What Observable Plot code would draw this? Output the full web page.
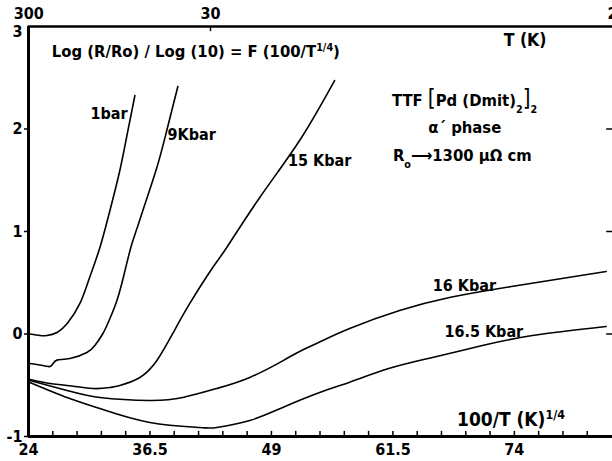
<!DOCTYPE html>
<html><head><meta charset="utf-8">
<script src="https://cdn.jsdelivr.net/npm/d3@7"></script>
<script src="https://cdn.jsdelivr.net/npm/@observablehq/plot@0.6"></script>
<style>
html,body{margin:0;padding:0;background:#fff;}
#chart svg{display:block;overflow:visible;}
</style></head><body><div id="chart"></div>
<script>
// ---- data (x = 100/T^(1/4), y = Log(R/Ro)/Log(10)) ----
const seriesNames = ["1bar", "9Kbar", "15 Kbar", "16 Kbar", "16.5 Kbar"];
const x1bar = [24.15, 25.18, 25.90, 26.93, 28.06, 29.29, 30.22, 31.35, 32.38, 33.40, 34.23, 34.95];
const y1bar = [0.00, -0.015, -0.015, 0.015, 0.112, 0.298, 0.532, 0.844, 1.205, 1.595, 1.985, 2.327];
const x9k = [24.15, 25.70, 26.21, 26.52, 26.93, 28.27, 30.01, 30.83, 31.66, 32.38, 33.10, 33.81, 34.53, 35.16, 35.87, 37.21, 38.23, 39.37];
const y9k = [-0.288, -0.312, -0.317, -0.290, -0.255, -0.239, -0.180, -0.112, 0.005, 0.151, 0.327, 0.571, 0.844, 1.029, 1.234, 1.624, 1.985, 2.415];
const x15k = [24.15, 26.21, 27.96, 30.63, 32.38, 33.40, 35.46, 37.21, 38.85, 40.60, 42.96, 44.40, 47.80, 51.90, 55.50];
const y15k = [-0.444, -0.483, -0.502, -0.532, -0.522, -0.502, -0.424, -0.259, 0.005, 0.298, 0.649, 0.844, 1.332, 1.888, 2.473];
const x16k = [24.15, 27.96, 31.35, 36.49, 39.88, 43.37, 46.77, 50.16, 51.90, 53.96, 57.05, 62.19, 67.32, 72.46, 77.60, 83.45];
const y16k = [-0.454, -0.551, -0.620, -0.649, -0.620, -0.532, -0.424, -0.262, -0.170, -0.078, 0.054, 0.229, 0.356, 0.444, 0.522, 0.610];
const x165k = [24.15, 27.96, 31.35, 36.49, 41.63, 43.37, 46.77, 50.16, 53.96, 57.05, 61.16, 65.57, 70.71, 75.85, 83.45];
const y165k = [-0.473, -0.620, -0.727, -0.863, -0.912, -0.912, -0.844, -0.717, -0.571, -0.470, -0.335, -0.229, -0.112, -0.015, 0.073];

const xTickLabels = [24, 36.5, 49, 61.5, 74];
const yTickLabels = [-1, 0, 1, 2];
const yTopLabel = [3];
const yRightTicks = [0, 1, 2];
const topTempLabels = [300, 30, 2];   // T (K)

// ---- build tables ----
const xs = [x1bar, x9k, x15k, x16k, x165k];
const ys = [y1bar, y9k, y15k, y16k, y165k];
const rows = seriesNames.flatMap((s, k) => xs[k].map((x, i) => ({series: s, x, y: ys[k][i]})));
const minorTicks = d3.range(24, 84, 2.5);
const topTicks = topTempLabels.map(T => 100 / Math.pow(T, 0.25));

const FONT = "'DejaVu Sans Condensed','Liberation Sans Narrow','DejaVu Sans',sans-serif";

const notes = [
  {t: "Log (R/Ro) / Log (10) = F (100/T^{1/4})", x: 26.4, y: 2.75, a: "start", s: 16.5},
  {t: "T (K)", x: 72.9, y: 2.86, a: "start", s: 17.5},
  {t: "TTF ~{[}Pd (Dmit)_{2}~{]}_{2}", x: 61.4, y: 2.28, a: "start", s: 16.5},
  {t: "α´ phase", x: 68.9, y: 2.01, a: "middle", s: 16.5},
  {t: "R_{o}⟶1300 µΩ cm", x: 61.5, y: 1.74, a: "start", s: 16.5},
  {t: "1bar", x: 34.2, y: 2.15, a: "end", s: 16},
  {t: "9Kbar", x: 38.3, y: 1.94, a: "start", s: 16},
  {t: "15 Kbar", x: 50.7, y: 1.69, a: "start", s: 16},
  {t: "16 Kbar", x: 65.6, y: 0.47, a: "start", s: 16},
  {t: "16.5 Kbar", x: 66.8, y: 0.02, a: "start", s: 16},
  {t: "100/T (K)^{1/4}", x: 68.1, y: -0.84, a: "start", s: 19}
];
const noteMarks = ["start", "middle", "end"].map(a =>
  Plot.text(notes.filter(d => d.a === a), {x: "x", y: "y", text: "t", textAnchor: a, fontSize: d => d.s, fontWeight: "bold", fill: "#000"}));

const plot = Plot.plot({
  width: 612,
  height: 461,
  marginLeft: 28,
  marginRight: 0,
  marginTop: 26,
  marginBottom: 25,
  style: {fontFamily: FONT, fontSize: "15px", background: "#fff", color: "#000"},
  x: {domain: [24, 84.1]},
  y: {domain: [-1, 3]},
  marks: [
    Plot.ruleX(minorTicks, {y1: -1, y2: -0.95, strokeWidth: 1.5}),
    Plot.ruleY(yRightTicks, {x1: 83.5, x2: 84.1, strokeWidth: 1.5}),
    Plot.ruleX([topTicks[1]], {y1: 3, y2: 2.95, strokeWidth: 1.5}),
    Plot.axisX(xTickLabels, {anchor: "bottom", tickSize: 0, tickPadding: 7, label: null, fontSize: 16, fontWeight: "bold", tickFormat: d => String(d)}),
    Plot.axisX(topTicks, {anchor: "top", tickSize: 0, tickPadding: 8, label: null, fontSize: 16, fontWeight: "bold", tickFormat: d => String(Math.round(Math.pow(100 / d, 4)))}),
    Plot.axisY(yTickLabels, {anchor: "left", tickSize: 4, tickPadding: 2, label: null, fontSize: 16, fontWeight: "bold", strokeWidth: 1.5, tickFormat: d => String(d)}),
    Plot.axisY(yTopLabel, {anchor: "left", tickSize: 0, tickPadding: 6, dy: 5, label: null, fontSize: 16, fontWeight: "bold", tickFormat: d => String(d)}),
    Plot.ruleY([-1], {strokeWidth: 3}),
    Plot.ruleY([3], {strokeWidth: 2.5}),
    Plot.ruleX([24], {y1: -1.01, y2: 3, strokeWidth: 3}),
    Plot.line(rows, {x: "x", y: "y", z: "series", curve: "natural", stroke: "#000", strokeWidth: 1.6}),
    ...noteMarks
  ]
});

// superscripts / subscripts / big brackets as tspans
d3.select(plot).selectAll("text").each(function() {
  const t = this.textContent;
  if (!/[\^_~]\{/.test(t)) return;
  const sel = d3.select(this);
  sel.text(null);
  const re = /([\^_~])\{([^}]*)\}/g;
  let last = 0, m;
  while ((m = re.exec(t))) {
    if (m.index > last) sel.append("tspan").text(t.slice(last, m.index));
    const sp = sel.append("tspan").text(m[2]);
    if (m[1] === "~") sp.attr("font-size", "135%").attr("font-weight", "normal");
    else sp.attr("baseline-shift", m[1] === "^" ? "super" : "sub").attr("font-size", "65%");
    last = re.lastIndex;
  }
  if (last < t.length) sel.append("tspan").text(t.slice(last));
});

document.getElementById("chart").appendChild(plot);
</script>
</body></html>
